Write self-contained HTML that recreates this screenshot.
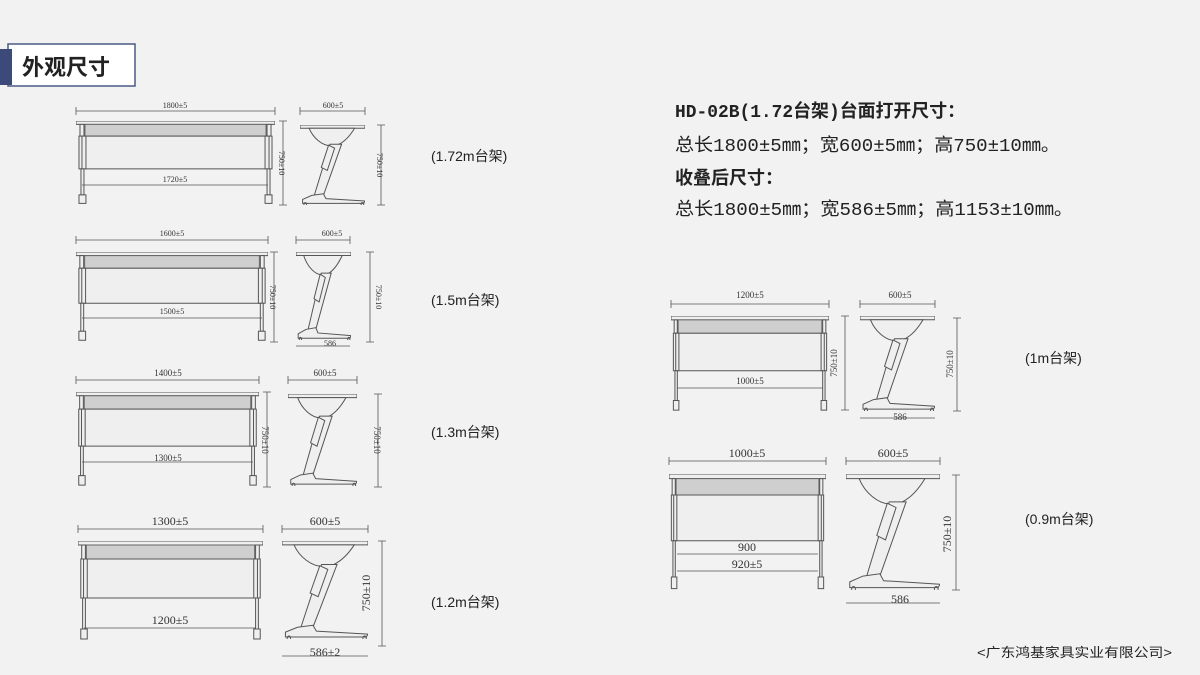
<!DOCTYPE html>
<html><head><meta charset="utf-8"><style>
html,body{margin:0;padding:0;background:#f2f2f2}
svg{display:block}
text{font-family:"Liberation Sans","Noto Sans CJK SC",sans-serif;fill:#222}
.d{font-family:"Liberation Serif","Noto Sans CJK SC",serif;fill:#333}
.s{stroke:#555;fill:none;stroke-width:1;vector-effect:non-scaling-stroke}
.f{stroke:#555;fill:#efefef;stroke-width:1;vector-effect:non-scaling-stroke}
.m{stroke:#666;fill:#cfcfcf;stroke-width:1;vector-effect:non-scaling-stroke}
.dl{stroke:#555;stroke-width:0.8;fill:none}
</style></head><body>
<svg width="1200" height="675" viewBox="0 0 1200 675" xmlns="http://www.w3.org/2000/svg">
<defs>
<symbol id="fr" viewBox="0 0 200 100" preserveAspectRatio="none">
 <rect class="f" x="0" y="0" width="200" height="4"/>
 <rect class="m" x="9" y="4" width="182" height="14"/>
 <rect class="f" x="4" y="4" width="4" height="14"/><rect class="f" x="192" y="4" width="4" height="14"/>
 <rect class="f" x="3" y="18" width="194" height="39"/>
 <rect class="f" x="6" y="18" width="4" height="39"/><rect class="f" x="190" y="18" width="4" height="39"/>
 <rect class="f" x="5" y="57" width="3" height="31"/><rect class="f" x="192" y="57" width="3" height="31"/>
 <rect class="f" x="3" y="88" width="7" height="10"/><rect class="f" x="190" y="88" width="7" height="10"/>
</symbol>
<symbol id="sd" viewBox="0 0 100 100" preserveAspectRatio="none">
 <rect class="f" x="0" y="0" width="100" height="4"/>
 <path class="f" d="M14 4 C20 16 34 26 48 26 L60 24 C70 20 78 12 84 4 Z"/>
 <polygon class="f" points="46,24 64,24 36,88 22,88"/>
 <rect class="f" x="38" y="26" width="10" height="30" transform="rotate(22 43 41)"/>
 <polygon class="f" points="18,88 36,86 40,92 100,95 98,98 4,98 4,93"/>
 <circle class="s" cx="8" cy="99" r="2"/><circle class="s" cx="96" cy="99" r="2"/>
</symbol>
</defs>
<rect width="1200" height="675" fill="#f2f2f2"/>
<rect x="8" y="44" width="127" height="42" fill="#fff" stroke="#4a5a85" stroke-width="1.5"/>
<rect x="0" y="49" width="12" height="36" fill="#3b4a78"/>
<text x="22" y="75" font-size="22" font-weight="bold" style="font-family:'Noto Sans CJK SC',sans-serif">外观尺寸</text>

<use href="#fr" x="76" y="121" width="199" height="84"/>
<use href="#sd" x="300" y="125" width="65" height="80"/>
<path class="dl" d="M76 111H275M76 107v8M275 107v8M283 121V205M279 121h8M279 205h8M300 111H365M300 107v8M365 107v8M381 125V205M377 125h8M377 205h8M82 185H268"/>
<text class="d" x="175" y="108" font-size="8" text-anchor="middle">1800±5</text>
<text class="d" x="175" y="182" font-size="8" text-anchor="middle">1720±5</text>
<text class="d" x="333" y="108" font-size="8" text-anchor="middle">600±5</text>
<text class="d" font-size="8" text-anchor="middle" transform="translate(279 163) rotate(90)">750±10</text>
<text class="d" font-size="8" text-anchor="middle" transform="translate(377 165) rotate(90)">750±10</text>
<text x="431" y="161" font-size="14">(1.72m台架)</text>

<use href="#fr" x="76" y="252" width="192" height="90"/>
<use href="#sd" x="296" y="252" width="55" height="88"/>
<path class="dl" d="M76 240H268M76 236v8M268 236v8M274 252V342M270 252h8M270 342h8M296 240H350M296 236v8M350 236v8M370 252V342M366 252h8M366 342h8M82 318H262M296 346H350"/>
<text class="d" x="172" y="236" font-size="8" text-anchor="middle">1600±5</text>
<text class="d" x="172" y="314" font-size="8" text-anchor="middle">1500±5</text>
<text class="d" x="332" y="236" font-size="8" text-anchor="middle">600±5</text>
<text class="d" x="330" y="346" font-size="8" text-anchor="middle">586</text>
<text class="d" font-size="8" text-anchor="middle" transform="translate(270 297) rotate(90)">750±10</text>
<text class="d" font-size="8" text-anchor="middle" transform="translate(376 297) rotate(90)">750±10</text>
<text x="431" y="305" font-size="14">(1.5m台架)</text>

<use href="#fr" x="76" y="392" width="183" height="95"/>
<use href="#sd" x="288" y="394" width="69" height="92"/>
<path class="dl" d="M76 380H259M76 376v8M259 376v8M267 392V487M263 392h8M263 487h8M288 380H357M288 376v8M357 376v8M378 394V487M374 394h8M374 487h8M82 462H253"/>
<text class="d" x="168" y="376" font-size="9" text-anchor="middle">1400±5</text>
<text class="d" x="168" y="461" font-size="9" text-anchor="middle">1300±5</text>
<text class="d" x="325" y="376" font-size="9" text-anchor="middle">600±5</text>
<text class="d" font-size="9" text-anchor="middle" transform="translate(262 440) rotate(90)">750±10</text>
<text class="d" font-size="9" text-anchor="middle" transform="translate(374 440) rotate(90)">750±10</text>
<text x="431" y="437" font-size="14">(1.3m台架)</text>

<use href="#fr" x="78" y="541" width="185" height="100"/>
<use href="#sd" x="282" y="541" width="86" height="98"/>
<path class="dl" d="M78 529H263M78 525v8M263 525v8M282 529H368M282 525v8M368 525v8M382 541V646M378 541h8M378 646h8M84 628H256M282 656H368"/>
<text class="d" x="170" y="525" font-size="12" text-anchor="middle">1300±5</text>
<text class="d" x="170" y="624" font-size="12" text-anchor="middle">1200±5</text>
<text class="d" x="325" y="525" font-size="12" text-anchor="middle">600±5</text>
<text class="d" x="325" y="656" font-size="12" text-anchor="middle">586±2</text>
<text class="d" font-size="12" text-anchor="middle" transform="translate(370 593) rotate(-90)">750±10</text>
<text x="431" y="607" font-size="14">(1.2m台架)</text>

<text x="675" y="117" font-size="18" font-weight="bold" textLength="290" lengthAdjust="spacingAndGlyphs" style="font-family:'Liberation Mono','Noto Sans CJK SC',monospace">HD-02B(1.72台架)台面打开尺寸：</text>
<text x="675" y="151" font-size="18" textLength="385" lengthAdjust="spacingAndGlyphs" style="font-family:'Liberation Mono','Noto Sans CJK SC',monospace">总长1800±5㎜；宽600±5㎜；高750±10㎜。</text>
<text x="675" y="184" font-size="18" font-weight="bold" textLength="108" lengthAdjust="spacingAndGlyphs" style="font-family:'Noto Sans CJK SC',sans-serif">收叠后尺寸：</text>
<text x="675" y="215" font-size="18" textLength="398" lengthAdjust="spacingAndGlyphs" style="font-family:'Liberation Mono','Noto Sans CJK SC',monospace">总长1800±5㎜；宽586±5㎜；高1153±10㎜。</text>

<use href="#fr" x="671" y="316" width="158" height="96"/>
<use href="#sd" x="860" y="316" width="75" height="95"/>
<path class="dl" d="M671 304H829M671 300v8M829 300v8M845 316V410M841 316h8M841 410h8M860 304H935M860 300v8M935 300v8M957 318V411M953 318h8M953 411h8M677 388H823M860 418H935"/>
<text class="d" x="750" y="298" font-size="9" text-anchor="middle">1200±5</text>
<text class="d" x="750" y="384" font-size="9" text-anchor="middle">1000±5</text>
<text class="d" x="900" y="298" font-size="9" text-anchor="middle">600±5</text>
<text class="d" x="900" y="420" font-size="9" text-anchor="middle">586</text>
<text class="d" font-size="9" text-anchor="middle" transform="translate(837 363) rotate(-90)">750±10</text>
<text class="d" font-size="9" text-anchor="middle" transform="translate(953 364) rotate(-90)">750±10</text>
<text x="1025" y="363" font-size="14">(1m台架)</text>

<use href="#fr" x="669" y="474" width="157" height="117"/>
<use href="#sd" x="846" y="474" width="94" height="116"/>
<path class="dl" d="M669 461H826M669 457v8M826 457v8M846 461H940M846 457v8M940 457v8M956 475V590M952 475h8M952 590h8M677 554H818M677 571H818M846 603H940"/>
<text class="d" x="747" y="457" font-size="12" text-anchor="middle">1000±5</text>
<text class="d" x="747" y="551" font-size="12" text-anchor="middle">900</text>
<text class="d" x="747" y="568" font-size="12" text-anchor="middle">920±5</text>
<text class="d" x="893" y="457" font-size="12" text-anchor="middle">600±5</text>
<text class="d" x="900" y="603" font-size="12" text-anchor="middle">586</text>
<text class="d" font-size="12" text-anchor="middle" transform="translate(951 534) rotate(-90)">750±10</text>
<text x="1025" y="524" font-size="14">(0.9m台架)</text>

<text x="977" y="657" font-size="13" textLength="195" lengthAdjust="spacingAndGlyphs">&lt;广东鸿基家具实业有限公司&gt;</text>
</svg>
</body></html>
